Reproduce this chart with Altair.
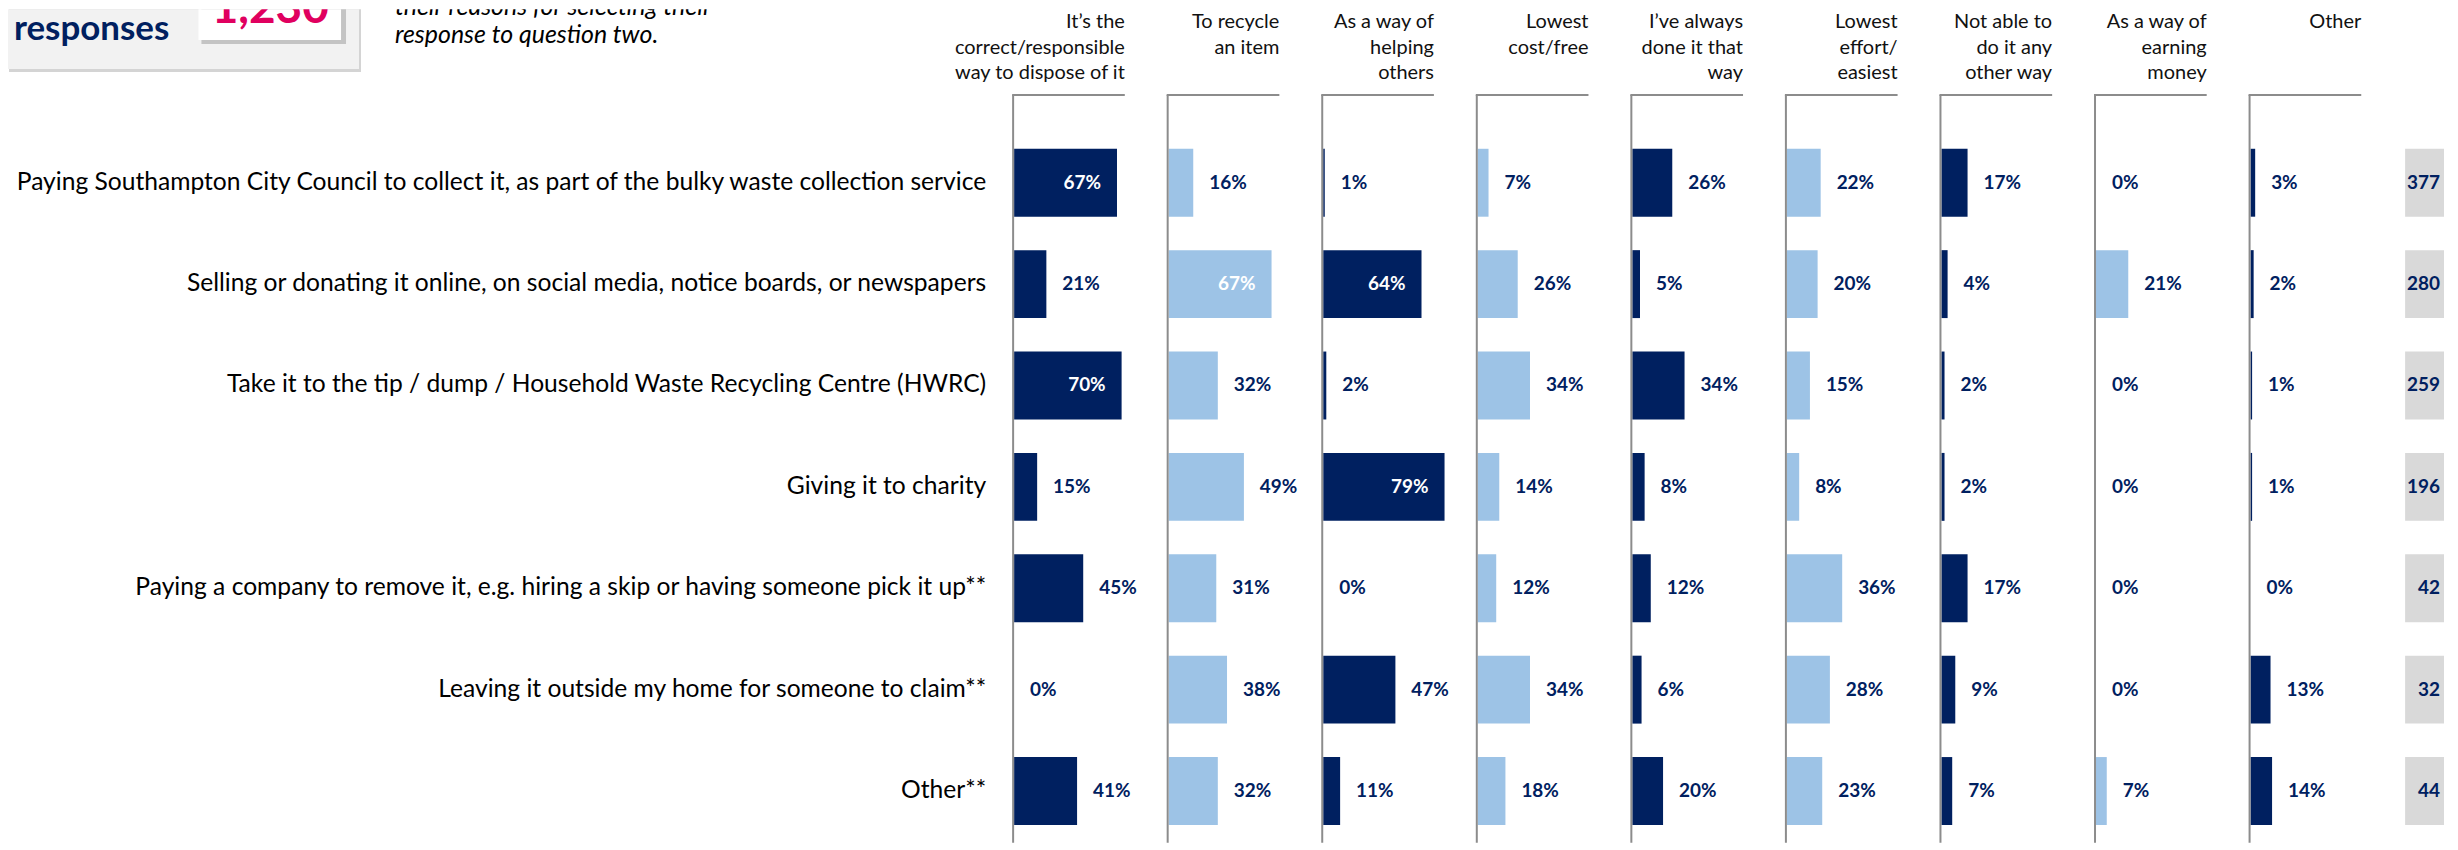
import altair as alt
import pandas as pd

# ---------------- data ----------------
ROWS = [
    "Paying Southampton City Council to collect it, as part of the bulky waste collection service",
    "Selling or donating it online, on social media, notice boards, or newspapers",
    "Take it to the tip / dump / Household Waste Recycling Centre (HWRC)",
    "Giving it to charity",
    "Paying a company to remove it, e.g. hiring a skip or having someone pick it up**",
    "Leaving it outside my home for someone to claim**",
    "Other**",
]
REASONS = [
    "It’s the\ncorrect/responsible\nway to dispose of it",
    "To recycle\nan item",
    "As a way of\nhelping\nothers",
    "Lowest\ncost/free",
    "I’ve always\ndone it that\nway",
    "Lowest\neffort/\neasiest",
    "Not able to\ndo it any\nother way",
    "As a way of\nearning\nmoney",
    "Other",
]
council = [67, 16, 1, 7, 26, 22, 17, 0, 3]
selling = [21, 67, 64, 26, 5, 20, 4, 21, 2]
tip = [70, 32, 2, 34, 34, 15, 2, 0, 1]
charity = [15, 49, 79, 14, 8, 8, 2, 0, 1]
company = [45, 31, 0, 12, 12, 36, 17, 0, 0]
outside = [0, 38, 47, 34, 6, 28, 9, 0, 13]
other = [41, 32, 11, 18, 20, 23, 7, 7, 14]
VALUES = [council, selling, tip, charity, company, outside, other]
COUNTS = [377, 280, 259, 196, 42, 32, 44]
TOTAL = "1,230"
BOX_LABEL = "responses"
NOTE = "their reasons for selecting their\nresponse to question two."

# ---------------- style ----------------
NAVY = "#002060"
LIGHT = "#9DC3E6"
GRID = "#8C8C8C"
FONT = "Lato"
H = 840
PANEL_W = 154.2
LABEL_W = 1008
Y0, Y1 = 123.2, 834.9

records = []
for r, vals in zip(ROWS, VALUES):
    for j, (reason, v) in enumerate(zip(REASONS, vals)):
        records.append({"row": r, "reason": reason, "value": v, "j": j})
df = pd.DataFrame(records)

yscale = alt.Scale(domain=ROWS, range=[Y0, Y1], paddingInner=0.33, paddingOuter=0.165)
xscale = alt.Scale(domain=[0, 100], range=[1, 155])
Y = alt.Y("row:N", scale=yscale, axis=None, sort=ROWS)
X = alt.X("value:Q", scale=xscale, axis=None)
one = pd.DataFrame({"a": [0]})


def panel(j):
    d = df[df["j"] == j]
    base = alt.Chart(d).transform_calculate(label="datum.value + '%'")
    color = NAVY if j % 2 == 0 else LIGHT
    bars = base.mark_bar(color=color).encode(x=X, y=Y)
    out_lab = base.transform_filter("datum.value < 60").mark_text(
        align="left", baseline="middle", dx=16, font=FONT, fontSize=19,
        fontWeight="bold", color=NAVY
    ).encode(x=X, y=Y, text="label:N")
    in_lab = base.transform_filter("datum.value >= 60").mark_text(
        align="right", baseline="middle", dx=-16, font=FONT, fontSize=19,
        fontWeight="bold", color="white"
    ).encode(x=X, y=Y, text="label:N")
    vline = alt.Chart(one).mark_rule(color=GRID, strokeWidth=2).encode(
        x=alt.value(0), y=alt.value(86), y2=alt.value(836))
    hline = alt.Chart(one).mark_rule(color=GRID, strokeWidth=2).encode(
        x=alt.value(-1), x2=alt.value(112), y=alt.value(86))
    header = alt.Chart(pd.DataFrame({"h": [REASONS[j]]})).mark_text(
        align="right", baseline="top", lineBreak="\n", lineHeight=25.5,
        font=FONT, fontSize=20, color="#111111"
    ).encode(x=alt.value(112), y=alt.value(3), text="h:N")
    return alt.layer(bars, out_lab, in_lab, vline, hline, header).properties(
        width=PANEL_W, height=H)


# left column: row labels + box + note
lab_df = pd.DataFrame({"row": ROWS})
row_labels = alt.Chart(lab_df).mark_text(
    align="right", baseline="middle", font=FONT, fontSize=24.7, color="#000000"
).encode(x=alt.value(981), y=Y, text="row:N")

shadow1 = alt.Chart(one).mark_rect(color="#D4D4D4").encode(
    x=alt.value(1), x2=alt.value(354), y=alt.value(0), y2=alt.value(63))
box = alt.Chart(one).mark_rect(color="#F2F2F2").encode(
    x=alt.value(0), x2=alt.value(352), y=alt.value(0), y2=alt.value(60))
shadow2 = alt.Chart(one).mark_rect(color="#C4C4C4").encode(
    x=alt.value(194), x2=alt.value(339), y=alt.value(0), y2=alt.value(35))
wbox = alt.Chart(one).mark_rect(color="#FFFFFF").encode(
    x=alt.value(191), x2=alt.value(334), y=alt.value(0), y2=alt.value(31))
resp = alt.Chart(pd.DataFrame({"t": [BOX_LABEL]})).mark_text(
    align="left", baseline="alphabetic", font=FONT, fontSize=35,
    fontWeight="bold", color=NAVY
).encode(x=alt.value(6), y=alt.value(31), text="t:N")
total = alt.Chart(pd.DataFrame({"t": [TOTAL]})).mark_text(
    align="center", baseline="alphabetic", font=FONT, fontSize=46,
    fontWeight="bold", color="#E0005F", clip=True
).encode(x=alt.value(263), y=alt.value(14), text="t:N")
note = alt.Chart(pd.DataFrame({"t": [NOTE]})).mark_text(
    align="left", baseline="alphabetic", lineBreak="\n", lineHeight=28,
    font=FONT, fontSize=25, fontStyle="italic", color="#000000", clip=True
).encode(x=alt.value(388), y=alt.value(6), text="t:N")

left = alt.layer(shadow1, box, shadow2, wbox, resp, total, note, row_labels).properties(
    width=LABEL_W, height=H)

# count column
cnt_df = pd.DataFrame({"row": ROWS, "n": COUNTS})
cbox = alt.Chart(cnt_df).mark_bar(color="#D9D9D9").encode(
    x=alt.value(1), x2=alt.value(40), y=Y)
ctext = alt.Chart(cnt_df).mark_text(
    align="right", baseline="middle", font=FONT, fontSize=19,
    fontWeight="bold", color=NAVY
).encode(x=alt.value(36), y=Y, text="n:Q")
counts = alt.layer(cbox, ctext).properties(width=46, height=H)

chart = alt.hconcat(left, *[panel(j) for j in range(9)], counts,
                    spacing=0, bounds="flush").properties(padding=0).configure_view(
    strokeWidth=0).configure_concat(spacing=0)

chart.save("out.html", embed_options={"renderer": "svg", "actions": False})
